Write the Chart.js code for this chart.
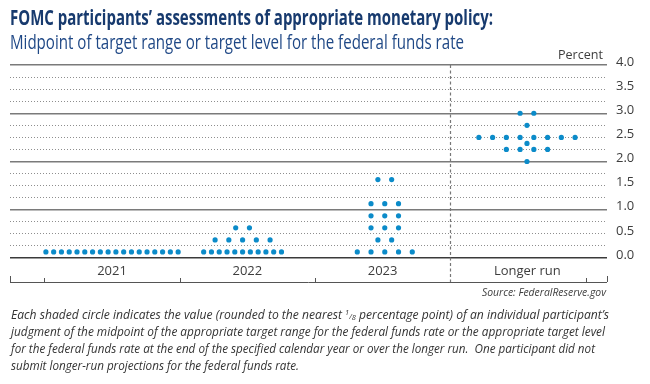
<!DOCTYPE html>
<html>
<head>
<meta charset="utf-8">
<script src="https://cdn.jsdelivr.net/npm/chart.js@4.4.1/dist/chart.umd.min.js"></script>
<style>
  html, body { margin:0; padding:0; background:#fff; }
  body { width:650px; height:384px; position:relative; overflow:hidden; font-family:'Open Sans', 'Noto Sans', sans-serif; }
  #chart { position:absolute; left:0; top:0; }
  .t { position:absolute; white-space:nowrap; display:inline-block; transform-origin:0 0; }
  .r { transform-origin:100% 0; }
  #title { left:10px; top:3px; font-size:21px; line-height:28px; font-weight:700; color:#173a6e; }
  #subtitle { left:10px; top:28px; font-size:20px; line-height:27px; color:#1f4886; }
  #percent { left:558px; top:45px; font-size:13px; line-height:18px; color:#3d3d3d; }
  #source { right:44px; top:284px; font-size:11.5px; line-height:16px; font-style:italic; color:#3d3d3d; }
  .fn { left:11px; font-size:13px; line-height:17px; font-style:italic; color:#333; }
  .fr { font-size:8px; position:relative; }
  .fr.up { top:-4px; }
  .fr.dn { top:1px; }
</style>
</head>
<body>
<canvas id="chart" width="650" height="384"></canvas>
<div id="title" class="t" data-w="483">FOMC participants’ assessments of appropriate monetary policy:</div>
<div id="subtitle" class="t" data-w="454">Midpoint of target range or target level for the federal funds rate</div>
<div id="percent" class="t" data-w="45">Percent</div>
<div id="source" class="t r" data-w="124">Source: FederalReserve.gov</div>
<div class="t fn" style="top:306px" data-w="598">Each shaded circle indicates the value (rounded to the nearest <span class="fr up">1</span><span class="fr">/</span><span class="fr dn">8</span> percentage point) of an individual participant’s</div>
<div class="t fn" style="top:323px" data-w="594">judgment of the midpoint of the appropriate target range for the federal funds rate or the appropriate target level</div>
<div class="t fn" style="top:340px" data-w="584">for the federal funds rate at the end of the specified calendar year or over the longer run.&nbsp; One participant did not</div>
<div class="t fn" style="top:357px" data-w="288">submit longer-run projections for the federal funds rate.</div>
<script>
// ---- Data ----
const categories = ['2021', '2022', '2023', 'Longer run'];
const levels2021 = [0.125];
const counts2021 = [18];
const levels2022 = [0.125, 0.375, 0.625];
const counts2022 = [11, 5, 2];
const levels2023 = [0.125, 0.375, 0.625, 0.875, 1.125, 1.625];
const counts2023 = [5, 2, 3, 3, 3, 2];
const levelsLonger = [2.0, 2.25, 2.375, 2.5, 2.75, 3.0];
const countsLonger = [1, 4, 1, 8, 1, 2];
const yTickValues = [0, 0.5, 1, 1.5, 2, 2.5, 3, 3.5, 4];

// ---- Layout constants (x scale units: one column = 1) ----
const dotCenters = [0, 0.965, 2.016, 3.067];
const labelCenters = [0, 1, 2, 3.07];
const columnEdges = [-0.5, 0.5, 1.5, 2.5, 3.5];
const X_MIN = -0.754, X_MAX = 3.6585;
const GAP = 0.1016, GAP_DENSE = 0.0575;

const groups = [[levels2021, counts2021], [levels2022, counts2022], [levels2023, counts2023], [levelsLonger, countsLonger]];
const points = [];
groups.forEach(([lv, ct], ci) => {
  lv.forEach((y, k) => {
    const n = ct[k];
    const gap = n > 9 ? GAP_DENSE : GAP;
    for (let j = 0; j < n; j++) {
      points.push({ x: dotCenters[ci] + (j - (n - 1) / 2) * gap, y: y });
    }
  });
});

const gridValues = [];
for (let v = 0; v <= 4.0001; v += 0.25) gridValues.push(Math.round(v * 100) / 100);

const fontFam = "'Open Sans', 'Noto Sans', sans-serif";

const framePlugin = {
  id: 'frame',
  beforeDatasetsDraw(chart) {
    const { ctx, chartArea, scales } = chart;
    const xs = scales.x;
    const baseY = chartArea.bottom + 24;
    ctx.save();
    // dashed separator before "Longer run"
    const sx = Math.round(xs.getPixelForValue(columnEdges[3])) + 0.5;
    ctx.strokeStyle = '#777';
    ctx.lineWidth = 1.2;
    ctx.setLineDash([3, 2.5]);
    ctx.beginPath();
    ctx.moveTo(sx, chartArea.top);
    ctx.lineTo(sx, baseY);
    ctx.stroke();
    ctx.setLineDash([]);
    // bottom bracket line with upward ticks
    ctx.strokeStyle = '#555';
    ctx.lineWidth = 1;
    ctx.beginPath();
    ctx.moveTo(chartArea.left, baseY + 0.5);
    ctx.lineTo(chartArea.right, baseY + 0.5);
    columnEdges.forEach((v, i) => {
      if (i === 3) return;
      const px = Math.round(xs.getPixelForValue(v)) + 0.5;
      ctx.moveTo(px, baseY);
      ctx.lineTo(px, baseY - 4);
    });
    [chartArea.left, chartArea.right].forEach(px => {
      const p = Math.round(px) + 0.5;
      ctx.moveTo(p, baseY);
      ctx.lineTo(p, baseY - 6);
    });
    ctx.stroke();
    ctx.restore();
  }
};

new Chart(document.getElementById('chart'), {
  type: 'scatter',
  data: {
    datasets: [{
      data: points,
      backgroundColor: '#0b8bc9',
      borderWidth: 0,
      pointRadius: 2.6,
      pointHoverRadius: 2.6
    }]
  },
  options: {
    responsive: false,
    animation: false,
    events: [],
    layout: { padding: { left: 10, top: 65, right: 0, bottom: 102 } },
    plugins: { legend: { display: false }, tooltip: { enabled: false }, title: { display: false } },
    scales: {
      x: {
        type: 'linear',
        min: X_MIN,
        max: X_MAX,
        afterBuildTicks: s => { s.ticks = labelCenters.map(v => ({ value: v })); },
        afterFit: s => { s.height = 24; },
        grid: { display: false, drawTicks: false },
        border: { display: false },
        ticks: {
          autoSkip: false,
          maxRotation: 0,
          padding: 5,
          color: '#3d3d3d',
          font: { family: fontFam, size: 13 },
          callback: (v, i) => categories[i]
        }
      },
      y: {
        position: 'right',
        min: 0,
        max: 4,
        afterBuildTicks: s => { s.ticks = gridValues.map(v => ({ value: v })); },
        afterFit: s => { s.width = 43; },
        grid: {
          drawTicks: false,
          color: c => {
            const v = c.tick ? c.tick.value : 0;
            if (v === 0) return '#3a3a3a';
            return v % 1 === 0 ? '#7a7a7a' : '#8e8e8e';
          },
          lineWidth: c => {
            const v = c.tick ? c.tick.value : 0;
            return v % 1 === 0 ? 1.5 : 1;
          }
        },
        border: {
          display: false,
          dash: c => (c.tick && c.tick.value % 1 !== 0) ? [1, 2] : []
        },
        ticks: {
          autoSkip: false,
          padding: 9,
          labelOffset: -3,
          color: '#3d3d3d',
          font: { family: fontFam, size: 13 },
          callback: v => (yTickValues.includes(v) ? v.toFixed(1) : '')
        }
      }
    }
  },
  plugins: [framePlugin]
});

function fitText() {
  document.querySelectorAll('[data-w]').forEach(el => {
    el.style.transform = 'none';
    const w = el.getBoundingClientRect().width;
    const target = parseFloat(el.getAttribute('data-w'));
    if (w > 0) el.style.transform = 'scaleX(' + (target / w) + ')';
  });
}
fitText();
if (document.fonts && document.fonts.ready) document.fonts.ready.then(fitText);
</script>
</body>
</html>
